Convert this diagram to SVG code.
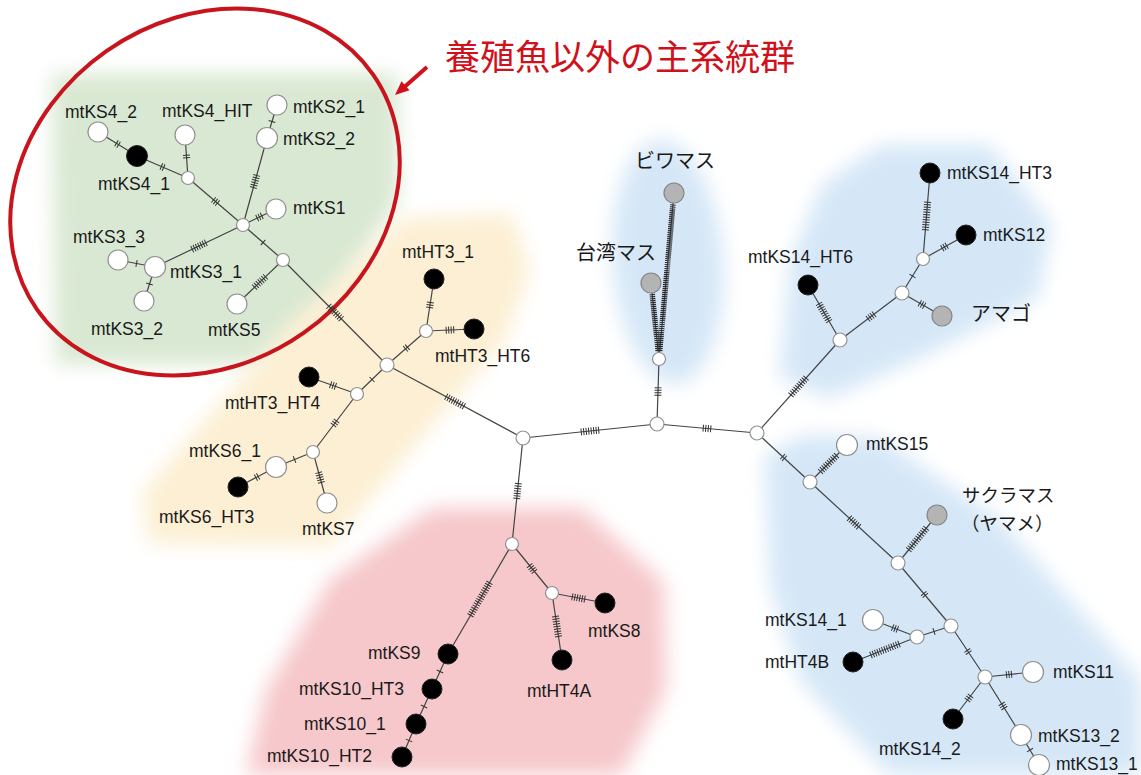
<svg xmlns="http://www.w3.org/2000/svg" width="1141" height="775" viewBox="0 0 1141 775">
<defs>
<style>
.e{stroke:#444;stroke-width:1.2;fill:none}
.t{stroke:#333;stroke-width:7;fill:none}
.d{stroke:#2a2a2a;stroke-width:5.5;fill:none;stroke-dasharray:1.2 0.8}
.w{fill:#fff;stroke:#909090;stroke-width:1.2}
.b{fill:#000;stroke:#222;stroke-width:1}
.g{fill:#b4b4b4;stroke:#858585;stroke-width:1.2}
.j{fill:#fff;stroke:#909090;stroke-width:1.2}
text{font-family:"Liberation Sans",Arial,sans-serif;font-size:17.5px;fill:#1a1a1a}
.jp{font-family:"Noto Sans CJK JP","Noto Sans CJK SC",sans-serif;font-size:20px}
.jp2{font-family:"Noto Sans CJK JP","Noto Sans CJK SC",sans-serif;font-size:18.5px}
.bg{filter:url(#blur)}
</style>
<filter id="blur" x="-30%" y="-30%" width="160%" height="160%"><feGaussianBlur stdDeviation="10"/></filter>
</defs>
<rect width="1141" height="775" fill="#fff"/>
<g id="backgrounds">
<polygon class="bg" fill="#d9e8d2" points="52,74 398,74 398,200 335,300 262,364 56,364"/>
<polygon class="bg" fill="#fcefd3" points="148,543 143,492 285,330 402,218 512,214 530,270 505,340 330,546"/>
<polygon class="bg" fill="#f6c8cb" points="432,508 582,508 664,582 666,690 622,775 246,775 266,690 330,580"/>
<ellipse class="bg" fill="#d5e7f7" cx="668" cy="262" rx="55" ry="122" transform="rotate(-4 668 262)"/>
<polygon class="bg" fill="#d5e7f7" points="880,145 990,145 1052,225 1038,298 920,358 830,398 780,378 790,262 822,185"/>
<polygon class="bg" fill="#d5e7f7" points="765,455 805,435 880,438 1000,520 1141,680 1141,775 890,775 800,680 770,585"/>
</g>
<ellipse id="highlight" cx="205" cy="192" rx="205" ry="172" transform="rotate(-35 205 192)" fill="none" stroke="#c8141c" stroke-width="4"/>
<g id="title">
<line x1="427" y1="67" x2="405" y2="86.5" stroke="#d0101a" stroke-width="4"/>
<polygon points="395,95 409.5,90.3 401.5,81.3" fill="#d0101a"/>
<text x="445" y="70" style="font-family:'Noto Sans CJK JP','Noto Sans CJK SC',sans-serif;font-size:35px;fill:#d0101a">養殖魚以外の主系統群</text>
</g>
<g id="connectors">
<line class="e" x1="98" y1="132" x2="137" y2="156"/><line class="t" x1="98" y1="132" x2="137" y2="156" stroke-dasharray="0 21.15 1 1.5 1 999"/>
<line class="e" x1="137" y1="156" x2="188" y2="178"/><line class="t" x1="137" y1="156" x2="188" y2="178" stroke-dasharray="0 26 1 1.5 1 999"/>
<line class="e" x1="185" y1="135" x2="188" y2="178"/><line class="t" x1="185" y1="135" x2="188" y2="178" stroke-dasharray="0 19.8 1 1.5 1 999"/>
<line class="e" x1="188" y1="178" x2="243" y2="225"/><line class="t" x1="188" y1="178" x2="243" y2="225" stroke-dasharray="0 33.15 1 1.5 1 1.5 1 999"/>
<line class="e" x1="277" y1="105" x2="267" y2="138"/><line class="t" x1="277" y1="105" x2="267" y2="138" stroke-dasharray="0 16.75 1 999"/>
<line class="e" x1="267" y1="138" x2="243" y2="225"/><line class="t" x1="267" y1="138" x2="243" y2="225" stroke-dasharray="0 38.35 1 1.5 1 1.5 1 1.5 1 1.5 1 1.5 1 999"/>
<line class="e" x1="276" y1="209" x2="243" y2="225"/><line class="t" x1="276" y1="209" x2="243" y2="225" stroke-dasharray="0 15.35 1 1.5 1 1.5 1 999"/>
<line class="e" x1="155" y1="267" x2="243" y2="225"/><line class="t" x1="155" y1="267" x2="243" y2="225" stroke-dasharray="0 40.75 1 1.5 1 1.5 1 1.5 1 1.5 1 1.5 1 1.5 1 999"/>
<line class="e" x1="118" y1="260" x2="155" y2="267"/><line class="t" x1="118" y1="260" x2="155" y2="267" stroke-dasharray="0 18.35 1 999"/>
<line class="e" x1="144" y1="301" x2="155" y2="267"/><line class="t" x1="144" y1="301" x2="155" y2="267" stroke-dasharray="0 17.35 1 999"/>
<line class="e" x1="243" y1="225" x2="283" y2="260"/><line class="t" x1="243" y1="225" x2="283" y2="260" stroke-dasharray="0 26.1 1 999"/>
<line class="e" x1="237" y1="304" x2="283" y2="260"/><line class="t" x1="237" y1="304" x2="283" y2="260" stroke-dasharray="0 23.85 1 1.5 1 1.5 1 1.5 1 1.5 1 1.5 1 1.5 1 999"/>
<line class="e" x1="283" y1="260" x2="387" y2="365"/><line class="t" x1="283" y1="260" x2="387" y2="365" stroke-dasharray="0 64.65 1 1.5 1 1.5 1 1.5 1 1.5 1 1.5 1 1.5 1 1.5 1 999"/>
<line class="e" x1="387" y1="365" x2="426" y2="331"/><line class="t" x1="387" y1="365" x2="426" y2="331" stroke-dasharray="0 24.1 1 1.5 1 999"/>
<line class="e" x1="426" y1="331" x2="434" y2="279"/><line class="t" x1="426" y1="331" x2="434" y2="279" stroke-dasharray="0 23.3 1 1.5 1 1.5 1 999"/>
<line class="e" x1="426" y1="331" x2="474" y2="329"/><line class="t" x1="426" y1="331" x2="474" y2="329" stroke-dasharray="0 19.75 1 1.5 1 1.5 1 1.5 1 999"/>
<line class="e" x1="387" y1="365" x2="357" y2="394"/><line class="t" x1="387" y1="365" x2="357" y2="394" stroke-dasharray="0 20.35 1 999"/>
<line class="e" x1="357" y1="394" x2="309" y2="377"/><line class="t" x1="357" y1="394" x2="309" y2="377" stroke-dasharray="0 22.45 1 1.5 1 1.5 1 999"/>
<line class="e" x1="357" y1="394" x2="313" y2="452"/><line class="t" x1="357" y1="394" x2="313" y2="452" stroke-dasharray="0 33.4 1 1.5 1 1.5 1 999"/>
<line class="e" x1="313" y1="452" x2="276" y2="467"/><line class="t" x1="313" y1="452" x2="276" y2="467" stroke-dasharray="0 19.45 1 999"/>
<line class="e" x1="276" y1="467" x2="238" y2="487"/><line class="t" x1="276" y1="467" x2="238" y2="487" stroke-dasharray="0 19.7 1 1.5 1 999"/>
<line class="e" x1="313" y1="452" x2="327" y2="503"/><line class="t" x1="313" y1="452" x2="327" y2="503" stroke-dasharray="0 20.95 1 1.5 1 1.5 1 1.5 1 1.5 1 999"/>
<line class="e" x1="387" y1="365" x2="523" y2="438"/><line class="t" x1="387" y1="365" x2="523" y2="438" stroke-dasharray="0 66.7 1 1.5 1 1.5 1 1.5 1 1.5 1 1.5 1 1.5 1 1.5 1 1.5 1 999"/>
<line class="e" x1="523" y1="438" x2="512" y2="544"/><line class="t" x1="523" y1="438" x2="512" y2="544" stroke-dasharray="0 45.3 1 1.5 1 1.5 1 1.5 1 1.5 1 1.5 1 1.5 1 999"/>
<line class="e" x1="523" y1="438" x2="657" y2="424"/><line class="t" x1="523" y1="438" x2="657" y2="424" stroke-dasharray="0 58.1 1 1.5 1 1.5 1 1.5 1 1.5 1 1.5 1 1.5 1 1.5 1 999"/>
<line class="e" x1="512" y1="544" x2="552" y2="593"/><line class="t" x1="512" y1="544" x2="552" y2="593" stroke-dasharray="0 27.4 1 1.5 1 1.5 1 1.5 1 999"/>
<line class="e" x1="552" y1="593" x2="605" y2="603"/><line class="t" x1="552" y1="593" x2="605" y2="603" stroke-dasharray="0 20.2 1 1.5 1 1.5 1 1.5 1 1.5 1 1.5 1 999"/>
<line class="e" x1="552" y1="593" x2="562" y2="660"/><line class="t" x1="552" y1="593" x2="562" y2="660" stroke-dasharray="0 23.35 1 1.5 1 1.5 1 1.5 1 1.5 1 1.5 1 1.5 1 1.5 1 1.5 1 999"/>
<line class="e" x1="512" y1="544" x2="448" y2="654"/><line class="t" x1="512" y1="544" x2="448" y2="654" stroke-dasharray="0 44.4 1 1.5 1 1.5 1 1.5 1 1.5 1 1.5 1 1.5 1 1.5 1 1.5 1 1.5 1 1.5 1 1.5 1 1.5 1 1.5 1 1.5 1 1.5 1 999"/>
<line class="e" x1="448" y1="654" x2="432" y2="689"/><line class="t" x1="448" y1="654" x2="432" y2="689" stroke-dasharray="0 18.75 1 999"/>
<line class="e" x1="432" y1="689" x2="416" y2="724"/><line class="t" x1="432" y1="689" x2="416" y2="724" stroke-dasharray="0 18.75 1 999"/>
<line class="e" x1="416" y1="724" x2="402" y2="757"/><line class="t" x1="416" y1="724" x2="402" y2="757" stroke-dasharray="0 17.4 1 999"/>
<line class="e" x1="657" y1="424" x2="659" y2="359"/><line class="t" x1="657" y1="424" x2="659" y2="359" stroke-dasharray="0 28.25 1 1.5 1 1.5 1 1.5 1 999"/>
<line class="e" x1="659" y1="359" x2="651" y2="283"/><line class="d" x1="658.2" y1="351" x2="652.1" y2="293.3"/>
<line class="e" x1="659" y1="359" x2="674" y2="193"/><line class="d" x1="659.7" y1="351" x2="673" y2="203.7"/>
<line class="e" x1="657" y1="424" x2="757" y2="433"/><line class="t" x1="657" y1="424" x2="757" y2="433" stroke-dasharray="0 45.95 1 1.5 1 1.5 1 1.5 1 999"/>
<line class="e" x1="757" y1="433" x2="840" y2="340"/><line class="t" x1="757" y1="433" x2="840" y2="340" stroke-dasharray="0 50.6 1 1.5 1 1.5 1 1.5 1 1.5 1 1.5 1 1.5 1 1.5 1 1.5 1 1.5 1 999"/>
<line class="e" x1="840" y1="340" x2="808" y2="285"/><line class="t" x1="840" y1="340" x2="808" y2="285" stroke-dasharray="0 21.3 1 1.5 1 1.5 1 1.5 1 1.5 1 1.5 1 1.5 1 1.5 1 1.5 1 999"/>
<line class="e" x1="840" y1="340" x2="902" y2="293"/><line class="t" x1="840" y1="340" x2="902" y2="293" stroke-dasharray="0 34.65 1 1.5 1 1.5 1 1.5 1 999"/>
<line class="e" x1="902" y1="293" x2="942" y2="316"/><line class="t" x1="902" y1="293" x2="942" y2="316" stroke-dasharray="0 20.05 1 1.5 1 1.5 1 999"/>
<line class="e" x1="902" y1="293" x2="923" y2="259"/><line class="t" x1="902" y1="293" x2="923" y2="259" stroke-dasharray="0 19.5 1 999"/>
<line class="e" x1="923" y1="259" x2="966" y2="235"/><line class="t" x1="923" y1="259" x2="966" y2="235" stroke-dasharray="0 21.6 1 1.5 1 1.5 1 999"/>
<line class="e" x1="923" y1="259" x2="930" y2="173"/><line class="t" x1="923" y1="259" x2="930" y2="173" stroke-dasharray="0 28.9 1 1.5 1 1.5 1 1.5 1 1.5 1 1.5 1 1.5 1 1.5 1 1.5 1 1.5 1 1.5 1 1.5 1 999"/>
<line class="e" x1="757" y1="433" x2="810" y2="482"/><line class="t" x1="757" y1="433" x2="810" y2="482" stroke-dasharray="0 34.35 1 1.5 1 999"/>
<line class="e" x1="810" y1="482" x2="847" y2="445"/><line class="t" x1="810" y1="482" x2="847" y2="445" stroke-dasharray="0 14.4 1 1.5 1 1.5 1 1.5 1 1.5 1 1.5 1 1.5 1 1.5 1 1.5 1 1.5 1 999"/>
<line class="e" x1="810" y1="482" x2="898" y2="563"/><line class="t" x1="810" y1="482" x2="898" y2="563" stroke-dasharray="0 53.05 1 1.5 1 1.5 1 1.5 1 1.5 1 1.5 1 999"/>
<line class="e" x1="898" y1="563" x2="937" y2="515"/><line class="t" x1="898" y1="563" x2="937" y2="515" stroke-dasharray="0 16.65 1 1.5 1 1.5 1 1.5 1 1.5 1 1.5 1 1.5 1 1.5 1 1.5 1 1.5 1 1.5 1 1.5 1 999"/>
<line class="e" x1="898" y1="563" x2="951" y2="626"/><line class="t" x1="898" y1="563" x2="951" y2="626" stroke-dasharray="0 39.4 1 1.5 1 999"/>
<line class="e" x1="951" y1="626" x2="917" y2="637"/><line class="t" x1="951" y1="626" x2="917" y2="637" stroke-dasharray="0 17.35 1 999"/>
<line class="e" x1="917" y1="637" x2="873" y2="620"/><line class="t" x1="917" y1="637" x2="873" y2="620" stroke-dasharray="0 20.6 1 1.5 1 1.5 1 999"/>
<line class="e" x1="917" y1="637" x2="853" y2="662"/><line class="t" x1="917" y1="637" x2="853" y2="662" stroke-dasharray="0 18.85 1 1.5 1 1.5 1 1.5 1 1.5 1 1.5 1 1.5 1 1.5 1 1.5 1 1.5 1 1.5 1 1.5 1 1.5 1 999"/>
<line class="e" x1="951" y1="626" x2="985" y2="677"/><line class="t" x1="951" y1="626" x2="985" y2="677" stroke-dasharray="0 28.9 1 1.5 1 999"/>
<line class="e" x1="985" y1="677" x2="1033" y2="672"/><line class="t" x1="985" y1="677" x2="1033" y2="672" stroke-dasharray="0 21.15 1 1.5 1 1.5 1 999"/>
<line class="e" x1="985" y1="677" x2="953" y2="719"/><line class="t" x1="985" y1="677" x2="953" y2="719" stroke-dasharray="0 23.4 1 1.5 1 1.5 1 999"/>
<line class="e" x1="985" y1="677" x2="1021" y2="735"/><line class="t" x1="985" y1="677" x2="1021" y2="735" stroke-dasharray="0 31.15 1 1.5 1 1.5 1 999"/>
<line class="e" x1="1021" y1="735" x2="1039" y2="765"/><line class="t" x1="1021" y1="735" x2="1039" y2="765" stroke-dasharray="0 17 1 999"/>
</g>
<g id="junctions">
<circle class="j" cx="188" cy="178" r="6.5"/>
<circle class="j" cx="243" cy="225" r="6.5"/>
<circle class="j" cx="283" cy="260" r="6.5"/>
<circle class="j" cx="387" cy="365" r="7"/>
<circle class="j" cx="426" cy="331" r="6.5"/>
<circle class="j" cx="357" cy="394" r="6.5"/>
<circle class="j" cx="313" cy="452" r="6.5"/>
<circle class="j" cx="523" cy="438" r="7"/>
<circle class="j" cx="512" cy="544" r="6.5"/>
<circle class="j" cx="552" cy="593" r="6.5"/>
<circle class="j" cx="657" cy="424" r="7"/>
<circle class="j" cx="659" cy="359" r="6.5"/>
<circle class="j" cx="757" cy="433" r="7"/>
<circle class="j" cx="840" cy="340" r="7"/>
<circle class="j" cx="902" cy="293" r="7"/>
<circle class="j" cx="923" cy="259" r="6.5"/>
<circle class="j" cx="810" cy="482" r="7"/>
<circle class="j" cx="898" cy="563" r="7"/>
<circle class="j" cx="951" cy="626" r="7"/>
<circle class="j" cx="917" cy="637" r="7"/>
<circle class="j" cx="985" cy="677" r="7"/>
</g>
<g id="n-mtKS4_2"><circle class="w" cx="98" cy="132" r="10"/><text x="65" y="118">mtKS4_2</text></g>
<g id="n-mtKS4_1"><circle class="b" cx="137" cy="156" r="10.5"/><text x="98" y="190">mtKS4_1</text></g>
<g id="n-mtKS4_HIT"><circle class="w" cx="185" cy="135" r="10"/><text x="162" y="117">mtKS4_HIT</text></g>
<g id="n-mtKS2_1"><circle class="w" cx="277" cy="105" r="10"/><text x="293" y="113">mtKS2_1</text></g>
<g id="n-mtKS2_2"><circle class="w" cx="267" cy="138" r="10.5"/><text x="283" y="145">mtKS2_2</text></g>
<g id="n-mtKS1"><circle class="w" cx="276" cy="209" r="10"/><text x="293" y="214">mtKS1</text></g>
<g id="n-mtKS3_3"><circle class="w" cx="118" cy="260" r="10"/><text x="73" y="243">mtKS3_3</text></g>
<g id="n-mtKS3_1"><circle class="w" cx="155" cy="267" r="10.5"/><text x="170" y="278">mtKS3_1</text></g>
<g id="n-mtKS3_2"><circle class="w" cx="144" cy="301" r="10"/><text x="91" y="335">mtKS3_2</text></g>
<g id="n-mtKS5"><circle class="w" cx="237" cy="304" r="10"/><text x="208" y="336">mtKS5</text></g>
<g id="n-mtHT3_1"><circle class="b" cx="434" cy="279" r="10"/><text x="402" y="258">mtHT3_1</text></g>
<g id="n-mtHT3_HT6"><circle class="b" cx="474" cy="329" r="10"/><text x="435" y="362">mtHT3_HT6</text></g>
<g id="n-mtHT3_HT4"><circle class="b" cx="309" cy="377" r="10"/><text x="225" y="409">mtHT3_HT4</text></g>
<g id="n-mtKS6_1"><circle class="w" cx="276" cy="467" r="10.5"/><text x="189" y="457">mtKS6_1</text></g>
<g id="n-mtKS6_HT3"><circle class="b" cx="238" cy="487" r="10"/><text x="159" y="523">mtKS6_HT3</text></g>
<g id="n-mtKS7"><circle class="w" cx="327" cy="503" r="10"/><text x="302" y="535">mtKS7</text></g>
<g id="n-mtKS8"><circle class="b" cx="605" cy="603" r="10"/><text x="588" y="637">mtKS8</text></g>
<g id="n-mtHT4A"><circle class="b" cx="562" cy="660" r="10"/><text x="527" y="697">mtHT4A</text></g>
<g id="n-mtKS9"><circle class="b" cx="448" cy="654" r="10"/><text x="368" y="659">mtKS9</text></g>
<g id="n-mtKS10_HT3"><circle class="b" cx="432" cy="689" r="10"/><text x="299" y="695">mtKS10_HT3</text></g>
<g id="n-mtKS10_1"><circle class="b" cx="416" cy="724" r="10"/><text x="304" y="730">mtKS10_1</text></g>
<g id="n-mtKS10_HT2"><circle class="b" cx="402" cy="757" r="10"/><text x="267" y="762">mtKS10_HT2</text></g>
<g id="n-biwamasu"><circle class="g" cx="674" cy="193" r="10"/><text class="jp" x="635" y="168">ビワマス</text></g>
<g id="n-taiwanmasu"><circle class="g" cx="651" cy="283" r="10"/><text class="jp" x="576" y="260">台湾マス</text></g>
<g id="n-mtKS14_HT6"><circle class="b" cx="808" cy="285" r="10"/><text x="748" y="263">mtKS14_HT6</text></g>
<g id="n-mtKS14_HT3"><circle class="b" cx="930" cy="173" r="10"/><text x="947" y="179">mtKS14_HT3</text></g>
<g id="n-mtKS12"><circle class="b" cx="966" cy="235" r="10"/><text x="983" y="241">mtKS12</text></g>
<g id="n-amago"><circle class="g" cx="942" cy="316" r="10"/><text class="jp" x="971" y="321">アマゴ</text></g>
<g id="n-mtKS15"><circle class="w" cx="847" cy="445" r="10.5"/><text x="866" y="450">mtKS15</text></g>
<g id="n-sakuramasu"><circle class="g" cx="937" cy="515" r="10"/><text class="jp2" x="962" y="502">サクラマス</text><text class="jp2" x="961" y="530">（ヤマメ）</text></g>
<g id="n-mtKS14_1"><circle class="w" cx="873" cy="620" r="10.5"/><text x="765" y="626">mtKS14_1</text></g>
<g id="n-mtHT4B"><circle class="b" cx="853" cy="662" r="10"/><text x="765" y="668">mtHT4B</text></g>
<g id="n-mtKS11"><circle class="w" cx="1033" cy="672" r="10.5"/><text x="1053" y="678">mtKS11</text></g>
<g id="n-mtKS14_2"><circle class="b" cx="953" cy="719" r="10"/><text x="879" y="755">mtKS14_2</text></g>
<g id="n-mtKS13_2"><circle class="w" cx="1021" cy="735" r="10.5"/><text x="1038" y="742">mtKS13_2</text></g>
<g id="n-mtKS13_1"><circle class="w" cx="1039" cy="765" r="10.5"/><text x="1056" y="770">mtKS13_1</text></g>
</svg>
